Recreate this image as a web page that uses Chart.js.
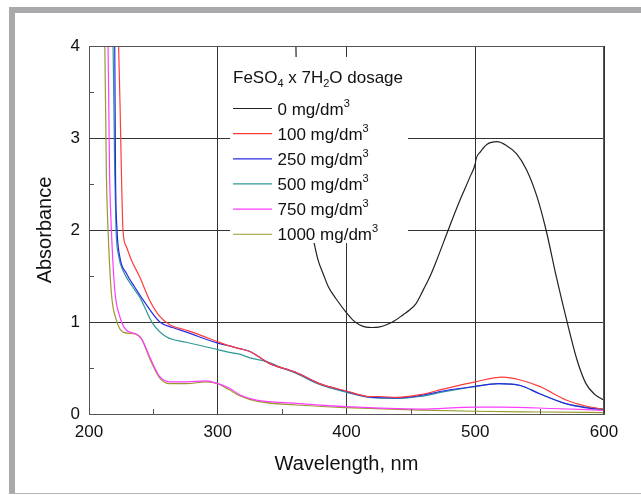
<!DOCTYPE html>
<html>
<head>
<meta charset="utf-8">
<script src="https://cdn.jsdelivr.net/npm/chart.js@4"></script>
<style>
html, body { margin:0; padding:0; background:#fff; }
#wrap { position:relative; width:641px; height:495px; overflow:hidden; }
#frame { position:absolute; left:9px; top:7px; width:700px; height:480px;
  border-top:6px solid #a9a9ab; border-left:6px solid #a9a9ab; border-bottom:1px solid #b4b4b6; }
#uv { position:absolute; left:0; top:0; }
</style>
</head>
<body>
<div id="wrap"><div id="frame"></div><canvas id="uv" width="641" height="495"></canvas></div>
<script>
'use strict';

// FeSO4 x 7H2O dose, mg/dm3
const doses = ['0', '100', '250', '500', '750', '1000'];
const colors = ['#222222', '#ff3c3c', '#2a2ae6', '#2e9896', '#ff3cff', '#9a9a2e'];

// wavelength (nm) / absorbance pairs for each dose
const nm0 = [360.3, 361, 365, 368, 371, 375, 378, 382, 386, 392, 400, 405, 410, 415, 420, 425, 431, 437, 444, 449, 454, 460, 465, 470, 479, 488, 496, 500, 500.6, 504, 509, 517, 524, 532, 540, 548, 555, 563, 571, 579, 586, 593, 600];
const a0  = [4.4, 3.75, 3.0, 2.5, 2.15, 1.85, 1.67, 1.52, 1.38, 1.25, 1.1, 1.02, 0.97, 0.945, 0.94, 0.945, 0.97, 1.01, 1.08, 1.13, 1.2, 1.36, 1.5, 1.67, 2.0, 2.32, 2.58, 2.72, 2.77, 2.85, 2.93, 2.96, 2.92, 2.83, 2.65, 2.36, 2.0, 1.49, 1.02, 0.59, 0.33, 0.21, 0.15];

const nm100 = [221, 223, 224.2, 225.2, 226.4, 229, 233, 239.4, 247, 255, 262.7, 275.7, 286, 300, 309, 317, 325, 340, 361, 379, 400, 418, 426, 439, 457, 475, 500, 521, 535, 550, 571, 585, 600];
const a100  = [4.6, 4.0, 3.3, 2.61, 2.0, 1.82, 1.67, 1.49, 1.24, 1.06, 0.97, 0.91, 0.86, 0.785, 0.74, 0.71, 0.68, 0.55, 0.45, 0.33, 0.25, 0.19, 0.19, 0.18, 0.21, 0.27, 0.35, 0.40, 0.37, 0.30, 0.15, 0.09, 0.05];

const nm250 = [218, 220, 220.6, 221.8, 223.9, 229, 235.5, 242, 255, 265, 275.7, 300, 309, 317, 325, 340, 361, 379, 400, 418, 439, 457, 475, 500, 518, 535, 550, 571, 585, 600];
const a250  = [4.6, 4.0, 2.61, 2.0, 1.71, 1.53, 1.38, 1.24, 1.0, 0.94, 0.89, 0.77, 0.74, 0.71, 0.68, 0.55, 0.45, 0.33, 0.245, 0.185, 0.175, 0.2, 0.25, 0.30, 0.33, 0.31, 0.22, 0.11, 0.07, 0.05];

const nm500 = [216.5, 218.7, 220, 221, 223, 226.4, 234, 239.4, 249.7, 260, 275.7, 300, 309, 317, 325, 338, 350, 361, 379, 400, 418, 439, 457, 475, 500, 518, 535, 550, 571, 600];
const a500  = [4.6, 4.0, 2.61, 2.0, 1.72, 1.56, 1.38, 1.27, 0.98, 0.84, 0.78, 0.70, 0.67, 0.65, 0.61, 0.57, 0.5, 0.44, 0.32, 0.235, 0.18, 0.17, 0.19, 0.24, 0.30, 0.33, 0.31, 0.22, 0.11, 0.05];

const nm750 = [213, 214.8, 216, 217.4, 220, 223.9, 229, 235.5, 240.7, 247.2, 255, 262.7, 275.7, 291, 300, 309.3, 317, 330, 361, 400, 457, 500, 520, 560, 600];
const a750  = [4.6, 4.0, 2.61, 2.0, 1.35, 1.06, 0.91, 0.876, 0.82, 0.62, 0.405, 0.35, 0.35, 0.36, 0.33, 0.28, 0.21, 0.15, 0.116, 0.08, 0.054, 0.075, 0.075, 0.06, 0.04];

const nm1000 = [211, 212.3, 213.5, 214.8, 217.4, 221.3, 226.4, 235.5, 240.7, 247.2, 255, 262.7, 275.7, 291, 300, 309.3, 317, 330, 361, 400, 457, 500, 550, 600];
const a1000  = [4.6, 4.0, 2.61, 2.0, 1.31, 1.02, 0.89, 0.87, 0.82, 0.60, 0.39, 0.33, 0.33, 0.35, 0.33, 0.26, 0.20, 0.14, 0.098, 0.07, 0.043, 0.03, 0.022, 0.015];

const series = [[nm0, a0], [nm100, a100], [nm250, a250], [nm500, a500], [nm750, a750], [nm1000, a1000]];

// unlabelled half steps, drawn as short inward ticks
const minorX = [250, 350, 450, 550];
const minorY = [0.5, 1.5, 2.5, 3.5];

const FONT = "'Liberation Sans', Arial, sans-serif";

// draw text runs with sub/superscripts, returns end x
function richText(ctx, parts, x, y){
  parts.forEach(([txt, kind]) => {
    if (kind === 'sub'){ ctx.font = '11px ' + FONT; ctx.fillText(txt, x, y + 4); }
    else if (kind === 'sup'){ ctx.font = '11px ' + FONT; ctx.fillText(txt, x, y - 8); }
    else { ctx.font = '17px ' + FONT; ctx.fillText(txt, x, y); }
    x += ctx.measureText(txt).width;
  });
  return x;
}

const framePlugin = {
  id: 'framePlugin',
  afterDatasetsDraw(chart){
    const {ctx, chartArea: a, scales: {x, y}} = chart;
    ctx.save();
    ctx.strokeStyle = '#555';
    ctx.lineWidth = 1;
    ctx.beginPath();
    ctx.moveTo(a.left, a.top + 0.5);
    ctx.lineTo(a.right - 0.5, a.top + 0.5);
    ctx.lineTo(a.right - 0.5, a.bottom);
    minorX.forEach(v => {
      const px = Math.round(x.getPixelForValue(v)) + 0.5;
      ctx.moveTo(px, a.bottom); ctx.lineTo(px, a.bottom - 5);
    });
    minorY.forEach(v => {
      const py = Math.round(y.getPixelForValue(v)) + 0.5;
      ctx.moveTo(a.left, py); ctx.lineTo(a.left + 5, py);
    });
    ctx.stroke();

    // legend box sits inside the plot and hides what is under it
    const bx = a.left + 141, by = a.top + 11;
    ctx.fillStyle = '#fff';
    ctx.fillRect(bx, by, 178, 186);
    ctx.fillStyle = '#111';
    ctx.textBaseline = 'alphabetic';
    richText(ctx, [['FeSO', 'n'], ['4', 'sub'], [' x 7H', 'n'], ['2', 'sub'], ['O dosage', 'n']], bx + 3, by + 26);
    doses.forEach((d, i) => {
      const ry = by + 51.5 + i * 25.15;
      ctx.strokeStyle = colors[i];
      ctx.lineWidth = 1.2;
      ctx.beginPath();
      ctx.moveTo(bx + 3, ry); ctx.lineTo(bx + 42, ry);
      ctx.stroke();
      ctx.fillStyle = '#111';
      richText(ctx, [[d + ' mg/dm', 'n'], ['3', 'sup']], bx + 47.5, ry + 6);
    });
    ctx.restore();
  }
};

function makePlot(){
  const datasets = series.map(([xs, ys], i) => ({
    label: doses[i] + ' mg/dm3',
    data: xs.map((v, k) => ({x: v, y: ys[k]})),
    borderColor: colors[i],
    borderWidth: 1.2,
    pointRadius: 0,
    fill: false,
    cubicInterpolationMode: 'monotone'
  }));

  new Chart(document.querySelector('#uv'), {
    type: 'line',
    data: {datasets},
    options: {
      responsive: false,
      animation: false,
      layout: {padding: {left: 25, top: 46, right: 37, bottom: 8}},
      plugins: {legend: {display: false}, tooltip: {enabled: false}},
      scales: {
        x: {
          type: 'linear', min: 200, max: 600,
          afterFit: s => { s.height = 73; },
          ticks: {stepSize: 100, padding: 8, color: '#111', font: {family: FONT, size: 17}},
          grid: {color: '#333', drawTicks: false},
          border: {color: '#555'},
          title: {display: true, text: 'Wavelength, nm', color: '#111',
            font: {family: FONT, size: 20}, padding: {top: 0, bottom: 11}}
        },
        y: {
          min: 0, max: 4,
          afterFit: s => { s.width = 64; },
          ticks: {stepSize: 1, padding: 9, color: '#111', font: {family: FONT, size: 17}},
          grid: {color: '#333', drawTicks: false},
          border: {color: '#555'},
          title: {display: true, text: 'Absorbance', color: '#111',
            font: {family: FONT, size: 20}, padding: {top: 8, bottom: 0}}
        }
      }
    },
    plugins: [framePlugin]
  });
}

window.addEventListener('load', () => {
  makePlot();
});
</script>
</body>
</html>
